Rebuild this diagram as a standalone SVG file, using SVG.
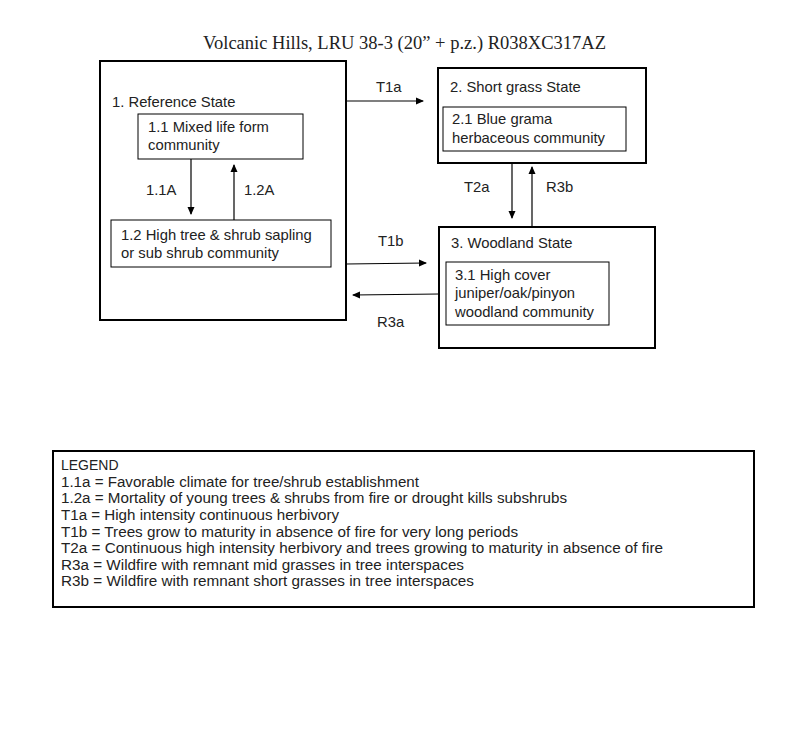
<svg xmlns="http://www.w3.org/2000/svg" width="800" height="750" viewBox="0 0 800 750">
<defs>
<marker id="ah" markerWidth="8" markerHeight="8" refX="7" refY="4" orient="auto" markerUnits="userSpaceOnUse">
<path d="M0,0.5 L8,4 L0,7.5 Z" fill="#000"/>
</marker>
<style>
.t{font-family:"Liberation Sans",Arial,sans-serif;font-size:14.8px;fill:#222}
.lg{font-family:"Liberation Sans",Arial,sans-serif;font-size:14px;fill:#222}
.ttl{font-family:"Liberation Serif","Times New Roman",serif;font-size:18px;fill:#222}
.state{fill:#fff;stroke:#000;stroke-width:2}
.comm{fill:#fff;stroke:#000;stroke-width:1}
.c{stroke:#000;stroke-width:1.2;fill:none;marker-end:url(#ah)}
</style>
</defs>
<rect width="800" height="750" fill="#fff"/>
<text class="ttl" x="203" y="49" textLength="403" lengthAdjust="spacingAndGlyphs">Volcanic Hills, LRU 38-3 (20” + p.z.) R038XC317AZ</text>

<g id="state1">
<rect class="state" x="100" y="61" width="246" height="259"/>
<text class="t" x="112" y="107">1. Reference State</text>
</g>
<g id="comm11">
<rect class="comm" x="138" y="114" width="165" height="45"/>
<text class="t" x="148" y="132">1.1 Mixed life form</text>
<text class="t" x="148" y="150">community</text>
</g>
<g id="comm12">
<rect class="comm" x="111" y="220" width="220" height="47"/>
<text class="t" x="121" y="240">1.2 High tree &amp; shrub sapling</text>
<text class="t" x="121" y="258">or sub shrub community</text>
</g>
<g id="state2">
<rect class="state" x="438" y="68" width="208" height="95"/>
<text class="t" x="450" y="92">2. Short grass State</text>
</g>
<g id="comm21">
<rect class="comm" x="443" y="107" width="183" height="44"/>
<text class="t" x="452" y="124">2.1 Blue grama</text>
<text class="t" x="452" y="143">herbaceous community</text>
</g>
<g id="state3">
<rect class="state" x="439" y="227" width="216" height="121"/>
<text class="t" x="451" y="248">3. Woodland State</text>
</g>
<g id="comm31">
<rect class="comm" x="446" y="262" width="163" height="63"/>
<text class="t" x="455" y="280">3.1 High cover</text>
<text class="t" x="455" y="298">juniper/oak/pinyon</text>
<text class="t" x="455" y="317">woodland community</text>
</g>

<g id="connectors">
<line class="c" x1="191" y1="159" x2="191" y2="214"/>
<text class="t" x="146" y="195">1.1A</text>
<line class="c" x1="234" y1="220" x2="234" y2="165"/>
<text class="t" x="244" y="195">1.2A</text>
<line class="c" x1="346" y1="101" x2="423" y2="101"/>
<text class="t" x="376" y="92">T1a</text>
<line class="c" x1="346" y1="264" x2="426" y2="263"/>
<text class="t" x="378" y="246">T1b</text>
<line class="c" x1="439" y1="294" x2="353" y2="295"/>
<text class="t" x="377" y="327">R3a</text>
<line class="c" x1="512" y1="163" x2="512" y2="218"/>
<text class="t" x="464" y="192">T2a</text>
<line class="c" x1="532" y1="227" x2="532" y2="167"/>
<text class="t" x="546" y="192">R3b</text>
</g>

<g id="legend">
<rect x="53" y="451" width="701" height="156" fill="#fff" stroke="#000" stroke-width="2"/>
<text class="lg" x="61" y="470">LEGEND</text>
<text class="lg" x="61" y="487" textLength="358" lengthAdjust="spacingAndGlyphs">1.1a = Favorable climate for tree/shrub establishment</text>
<text class="lg" x="61" y="503" textLength="506" lengthAdjust="spacingAndGlyphs">1.2a = Mortality of young trees &amp; shrubs from fire or drought kills subshrubs</text>
<text class="lg" x="61" y="520" textLength="278" lengthAdjust="spacingAndGlyphs">T1a = High intensity continuous herbivory</text>
<text class="lg" x="61" y="537" textLength="457" lengthAdjust="spacingAndGlyphs">T1b = Trees grow to maturity in absence of fire for very long periods</text>
<text class="lg" x="61" y="553" textLength="602" lengthAdjust="spacingAndGlyphs">T2a = Continuous high intensity herbivory and trees growing to maturity in absence of fire</text>
<text class="lg" x="61" y="570" textLength="403" lengthAdjust="spacingAndGlyphs">R3a = Wildfire with remnant mid grasses in tree interspaces</text>
<text class="lg" x="61" y="586" textLength="413" lengthAdjust="spacingAndGlyphs">R3b = Wildfire with remnant short grasses in tree interspaces</text>
</g>
</svg>
